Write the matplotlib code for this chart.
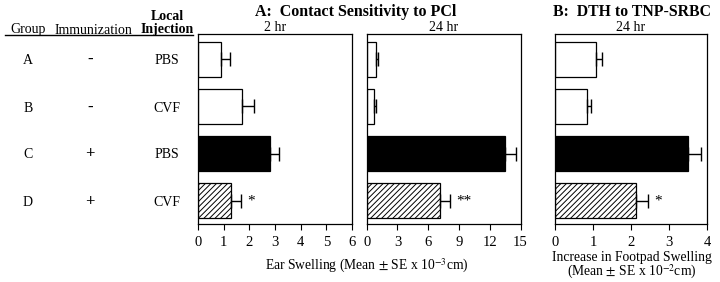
import numpy as np
import matplotlib
matplotlib.use("Agg")
import matplotlib.pyplot as plt
from matplotlib.lines import Line2D

plt.rcParams["font.family"] = ["Liberation Serif", "DejaVu Serif"]
plt.rcParams["mathtext.fontset"] = "stix"
plt.rcParams["hatch.linewidth"] = 0.7

# Data
groups = ["A", "B", "C", "D"]
immunization = ["-", "-", "+", "+"]
injection = ["PBS", "CVF", "PBS", "CVF"]

cs_2hr = [0.9, 1.71, 2.8, 1.27]
cs_2hr_err = [0.36, 0.47, 0.35, 0.41]
cs_24hr = [0.91, 0.68, 13.5, 7.17]
cs_24hr_err = [0.2, 0.22, 1.1, 0.98]
dth_24hr = [1.07, 0.84, 3.5, 2.13]
dth_24hr_err = [0.17, 0.12, 0.33, 0.33]

stars_2hr = ["", "", "", "*"]
stars_24hr = ["", "", "", "**"]
stars_dth = ["", "", "", "*"]

W, H = 720, 282
fig = plt.figure(figsize=(W / 100, H / 100), dpi=100)

AX_TOP, AX_BOT = 34, 224


def px(x, y):
    return x / W, 1 - y / H


def draw_panel(x0, x1, vals, errs, stars, xmax, xticks, sub):
    ax = fig.add_axes([x0 / W, 1 - AX_BOT / H, (x1 - x0) / W, (AX_BOT - AX_TOP) / H])
    y = np.arange(len(vals))
    faces = ["white", "white", "black", "white"]
    hatches = [None, None, None, "//////"]
    for i in range(len(vals)):
        ax.barh(y[i], vals[i], height=0.74, color=faces[i], edgecolor="black",
                linewidth=0.9, hatch=hatches[i])
    ax.errorbar(vals, y, xerr=[np.zeros(len(vals)), errs], fmt="none",
                ecolor="black", elinewidth=1.0, capsize=5, capthick=1.0)
    for i, s in enumerate(stars):
        if s:
            ax.text(vals[i] + errs[i] + xmax * 0.04, y[i], s, fontsize=11,
                    va="center", ha="left")
    ax.set_xlim(0, xmax)
    ax.set_ylim(3.49, -0.53)
    ax.set_xticks(xticks)
    ax.set_yticks([])
    ax.tick_params(axis="x", direction="out", length=4, width=0.8,
                   labelsize=10.5, pad=5)
    for sp in ax.spines.values():
        sp.set_linewidth(0.9)
    ax.set_title(sub, fontsize=10, pad=2)
    return ax


ax1 = draw_panel(198, 352, cs_2hr, cs_2hr_err, stars_2hr, 6, range(0, 7), "2 hr")
ax2 = draw_panel(366.7, 520.5, cs_24hr, cs_24hr_err, stars_24hr, 15,
                 range(0, 16, 3), "24 hr")
ax3 = draw_panel(555, 707, dth_24hr, dth_24hr_err, stars_dth, 4, range(0, 5), "24 hr")

# Panel titles
fig.text(*px(356, 12), "A:  Contact Sensitivity to PCl", fontsize=11.5,
         fontweight="bold", ha="center", va="center")
fig.text(*px(632, 12), "B:  DTH to TNP-SRBC", fontsize=11.3,
         fontweight="bold", ha="center", va="center")

# Axis labels
fig.text(*px(367, 266), r"Ear Swelling (Mean $\pm$ SE x 10$^{-3}$cm)",
         fontsize=9.8, ha="center", va="center")
fig.text(*px(632, 258), "Increase in Footpad Swelling", fontsize=9.8,
         ha="center", va="center")
fig.text(*px(632, 272), r"(Mean $\pm$ SE x 10$^{-2}$cm)", fontsize=9.8,
         ha="center", va="center")

# Left table
fig.text(*px(28, 30), "Group", fontsize=10, ha="center", va="center")
fig.text(*px(93, 30), "Immunization", fontsize=10, ha="center", va="center")
fig.text(*px(167, 16), "Local", fontsize=10, fontweight="bold",
         ha="center", va="center")
fig.text(*px(167, 29), "Injection", fontsize=10, fontweight="bold",
         ha="center", va="center")
fig.add_artist(Line2D([5 / W, 193 / W], [1 - 35 / H, 1 - 35 / H],
                      color="black", linewidth=1.0))

row_y = [60, 108, 154, 202]
for g, im, inj, ry in zip(groups, immunization, injection, row_y):
    fig.text(*px(28, ry), g, fontsize=10, ha="center", va="center")
    fig.text(*px(90, ry), im, fontsize=12, fontweight="bold",
             ha="center", va="center")
    fig.text(*px(167, ry), inj, fontsize=10, ha="center", va="center")

fig.savefig("out.png", dpi=100)
